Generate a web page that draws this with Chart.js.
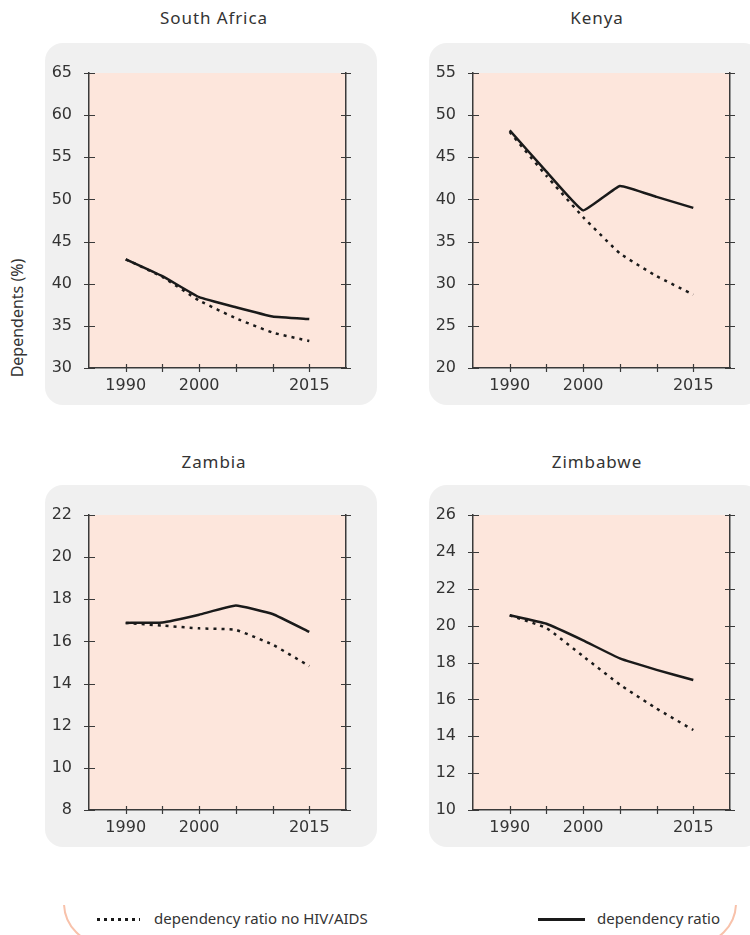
<!DOCTYPE html>
<html>
<head>
<meta charset="utf-8">
<script src="https://cdn.jsdelivr.net/npm/chart.js@4.4.0/dist/chart.umd.min.js"></script>
<style>
  body { margin: 0; background: #fff; }
  #wrap { position: relative; width: 750px; height: 935px; overflow: hidden; background: #fff; font-family: 'Noto Sans', sans-serif; color: #333; }
  .title { position: absolute; width: 332px; text-align: center; font-size: 17px; letter-spacing: 0.9px; line-height: 20px; }
  .box { position: absolute; width: 332px; height: 362px; background: #f0f0f0; border-radius: 18px; }
  .box canvas { position: absolute; left: 0; top: 0; }
  #ylab { position: absolute; left: 17px; top: 318px; transform: translate(-50%, -50%) rotate(-90deg); font-size: 16px; white-space: nowrap; }
  .leg { position: absolute; top: 908px; font-size: 15px; line-height: 20px; white-space: nowrap; }
  #arcClip { position: absolute; left: 0; top: 905px; width: 750px; height: 40px; overflow: hidden; }
  #arc { position: absolute; left: 63px; top: -44px; width: 674px; height: 84px; border: 2px solid #f8c2ab; border-radius: 44px; box-sizing: border-box; }
</style>
</head>
<body>
<div id="wrap">
  <div class="title" style="left:48px;top:8px">South Africa</div>
  <div class="title" style="left:431px;top:8px">Kenya</div>
  <div class="title" style="left:48px;top:452px">Zambia</div>
  <div class="title" style="left:431px;top:452px">Zimbabwe</div>

  <div class="box" style="left:45px;top:43px"><canvas id="c1" width="332" height="362"></canvas></div>
  <div class="box" style="left:429px;top:43px"><canvas id="c2" width="332" height="362"></canvas></div>
  <div class="box" style="left:45px;top:485px"><canvas id="c3" width="332" height="362"></canvas></div>
  <div class="box" style="left:429px;top:485px"><canvas id="c4" width="332" height="362"></canvas></div>

  <div id="ylab">Dependents (%)</div>

  <div id="arcClip"><div id="arc"></div></div>
  <div class="leg" style="left:97px">
    <span style="display:inline-block;width:43px;height:3px;vertical-align:middle;margin-right:14px;background:repeating-linear-gradient(90deg,#1a1a1a 0 3px,transparent 3px 7px)"></span>dependency ratio no HIV/AIDS
  </div>
  <div class="leg" style="left:538px">
    <span style="display:inline-block;width:47px;height:3px;vertical-align:middle;margin-right:12px;background:#1a1a1a"></span>dependency ratio
  </div>
</div>
<script>
// years on the x axis
const years = [1990, 1995, 2000, 2005, 2010, 2015];
const xLabels = [1990, 2000, 2015];

// South Africa
const saRatio = [42.9, 40.9, 38.4, 37.2, 36.1, 35.8];
const saNoAids = [42.9, 40.8, 38.0, 35.9, 34.2, 33.2];
// Kenya
const keRatio = [48.2, 43.3, 38.7, 41.6, 40.3, 39.0];
const keNoAids = [48.0, 42.8, 37.9, 33.6, 30.9, 28.7];
// Zambia
const zmRatio = [16.88, 16.9, 17.27, 17.7, 17.3, 16.45];
const zmNoAids = [16.88, 16.75, 16.62, 16.55, 15.85, 14.83];
// Zimbabwe
const zwRatio = [20.56, 20.1, 19.2, 18.22, 17.6, 17.05];
const zwNoAids = [20.56, 19.87, 18.34, 16.8, 15.5, 14.34];

const axisColor = '#3a3a3a';
const lineColor = '#1a1a1a';

// peach plot background + tick marks crossing the axes
const panelDecor = {
  id: 'panelDecor',
  beforeDraw(chart) {
    const { ctx, chartArea: a } = chart;
    ctx.save();
    ctx.fillStyle = '#fde6dc';
    ctx.fillRect(a.left, a.top, a.right - a.left, a.bottom - a.top);
    ctx.restore();
  },
  afterDraw(chart) {
    const { ctx, chartArea: a, scales } = chart;
    ctx.save();
    ctx.strokeStyle = axisColor;
    ctx.lineWidth = 1.2;
    ctx.beginPath();
    scales.y.ticks.forEach(t => {
      const py = Math.round(scales.y.getPixelForValue(t.value)) + 0.5;
      ctx.moveTo(a.left - 5, py); ctx.lineTo(a.left + 6, py);
      ctx.moveTo(a.right - 5, py); ctx.lineTo(a.right + 5, py);
    });
    scales.x.ticks.forEach(t => {
      if (t.value <= scales.x.min || t.value >= scales.x.max) return;
      const px = Math.round(scales.x.getPixelForValue(t.value)) + 0.5;
      ctx.moveTo(px, a.bottom - 4); ctx.lineTo(px, a.bottom + 4);
    });
    ctx.stroke();
    ctx.restore();
  }
};

function toPoints(values) {
  return years.map((yr, i) => ({ x: yr, y: values[i] }));
}

function makePanel(id, ratio, noAids, yMin, yMax, yStep) {
  const ctx = document.getElementById(id).getContext('2d');
  return new Chart(ctx, {
    type: 'line',
    data: {
      datasets: [{
        label: 'dependency ratio',
        data: toPoints(ratio),
        borderColor: lineColor,
        borderWidth: 2.5,
        pointRadius: 0,
        tension: 0.1,
      }, {
        label: 'dependency ratio no HIV/AIDS',
        data: toPoints(noAids),
        borderColor: lineColor,
        borderWidth: 2.5,
        borderDash: [3, 5],
        pointRadius: 0,
        tension: 0.1,
      }]
    },
    options: {
      responsive: false,
      animation: false,
      layout: { padding: { top: 30, left: 0, right: 0, bottom: 0 } },
      plugins: { legend: { display: false }, tooltip: { enabled: false } },
      scales: {
        x: {
          type: 'linear',
          min: 1985,
          max: 2020,
          grid: { display: false, drawTicks: false },
          border: { display: true, color: axisColor, width: 1.5 },
          ticks: {
            stepSize: 5,
            autoSkip: false,
            maxRotation: 0,
            padding: 8,
            color: '#333',
            font: { family: 'DejaVu Sans', size: 16 },
            callback: v => xLabels.includes(v) ? String(v) : '',
          },
          afterFit: s => { s.height = 37; },
        },
        y: {
          position: 'left',
          min: yMin,
          max: yMax,
          grid: { display: false, drawTicks: false },
          border: { display: true, color: axisColor, width: 1.5 },
          ticks: {
            stepSize: yStep,
            padding: 17,
            color: '#333',
            font: { family: 'DejaVu Sans', size: 16 },
          },
          afterFit: s => { s.width = 44; },
        },
        y2: {
          position: 'right',
          min: yMin,
          max: yMax,
          grid: { display: false, drawTicks: false },
          border: { display: true, color: axisColor, width: 1.5 },
          ticks: { display: false, stepSize: yStep },
          afterFit: s => { s.width = 31; },
        }
      }
    },
    plugins: [panelDecor]
  });
}

makePanel('c1', saRatio, saNoAids, 30, 65, 5);
makePanel('c2', keRatio, keNoAids, 20, 55, 5);
makePanel('c3', zmRatio, zmNoAids, 8, 22, 2);
makePanel('c4', zwRatio, zwNoAids, 10, 26, 2);
</script>
</body>
</html>
